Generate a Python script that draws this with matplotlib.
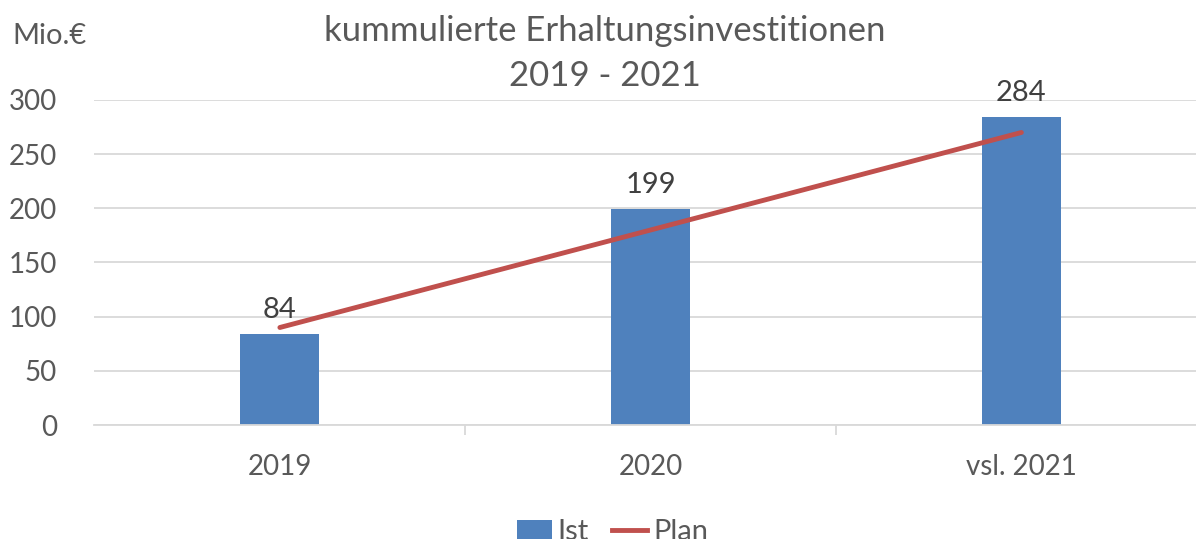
import matplotlib.pyplot as plt
from matplotlib.lines import Line2D
from matplotlib.patches import Patch

categories = ["2019", "2020", "vsl. 2021"]
ist = [84, 199, 284]
plan = [90, 180, 270]

plt.rcParams["font.family"] = ["Lato", "DejaVu Sans"]
grey = "#595959"
blue = "#4f81bd"
red = "#c0504d"

fig = plt.figure(figsize=(11.96, 5.39), dpi=100)
ax = fig.add_axes([0.079, 0.2115, 0.930, 0.603])

x = list(range(len(categories)))
ax.bar(x, ist, width=0.213, color=blue, zorder=2)
ax.plot(x, plan, color=red, linewidth=3.5, solid_capstyle="round", zorder=3)

for xi, v in zip(x, ist):
    ax.annotate(str(v), (xi, v), xytext=(0, 8), textcoords="offset points",
                ha="center", va="bottom", fontsize=21, color="#404040")

ax.set_xlim(-0.5, 2.5)
ax.set_ylim(0, 300)
ax.set_yticks(range(0, 301, 50))
ax.grid(True, axis="y", color="#d9d9d9", linewidth=1.3, zorder=0)
ax.set_axisbelow(True)

ax.set_xticks(x)
ax.set_xticklabels(categories)
ax.set_xticks([0.5, 1.5], minor=True)
ax.tick_params(axis="x", which="major", length=0, pad=21, labelsize=20, labelcolor=grey)
ax.tick_params(axis="x", which="minor", length=7, color="#d9d9d9", width=1.3)
ax.tick_params(axis="y", length=0, pad=27, labelsize=20, labelcolor=grey)

for s in ["top", "right", "left"]:
    ax.spines[s].set_visible(False)
ax.spines["bottom"].set_color("#d9d9d9")
ax.spines["bottom"].set_linewidth(1.3)

fig.text(0.506, 0.90, "kummulierte Erhaltungsinvestitionen\n2019 - 2021",
         ha="center", va="center", fontsize=25, color=grey, linespacing=1.5)
fig.text(0.01, 0.933, "Mio.€", ha="left", va="center", fontsize=21, color=grey)

handles = [Patch(facecolor=blue, label="Ist"),
           Line2D([0], [0], color=red, linewidth=3.5, label="Plan")]
fig.legend(handles=handles, loc="center", bbox_to_anchor=(0.512, 0.013), ncol=2,
           frameon=False, fontsize=21, labelcolor=grey, handlelength=1.2,
           handletextpad=0.2, columnspacing=0.8)

fig.savefig("out.png", dpi=100)
